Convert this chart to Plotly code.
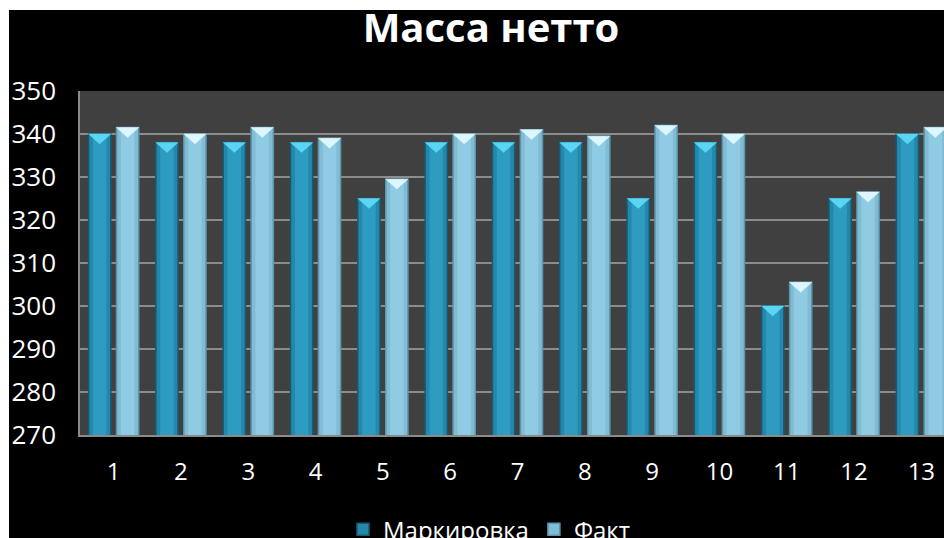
import plotly.graph_objects as go

categories = [1, 2, 3, 4, 5, 6, 7, 8, 9, 10, 11, 12, 13]
marking = [340, 338, 338, 338, 325, 338, 338, 338, 325, 338, 300, 325, 340]
actual = [341.5, 340, 341.5, 339, 329.5, 340, 341, 339.5, 342, 340, 305.5, 326.5, 341.5]
series_names = ["Маркировка", "Факт"]
y_ticks = [270, 280, 290, 300, 310, 320, 330, 340, 350]

FONT = "Open Sans, Noto Sans, Liberation Sans, sans-serif"

BAR_W = 0.33
INNER_W = 0.2
OFFSETS = [-0.3725, 0.0425]
CAP_H = 2.3  # height of the bevelled top cap, in axis units
bar_colors = ["#2388AB", "#80BCD3"]
inner_colors = ["#2E9CC1", "#8FCCE3"]
edge_colors = ["#165B73", "#5A95AB"]
cap_colors = ["#5AD6F4", "#DDF6FF"]


def cap_path(values, off):
    xs, ys = [], []
    for c, v in zip(categories, values):
        x0 = c + off
        x1 = x0 + BAR_W
        xs += [x0, x1, (x0 + x1) / 2, x0, None]
        ys += [v, v, v - CAP_H, v, None]
    return xs, ys


fig = go.Figure()
series = [marking, actual]
for i, (name, vals) in enumerate(zip(series_names, series)):
    fig.add_trace(go.Bar(
        x=categories, y=vals, name=name,
        width=BAR_W, offset=OFFSETS[i],
        marker=dict(color=bar_colors[i], line=dict(color=edge_colors[i], width=1.5)),
    ))
for i, vals in enumerate(series):
    fig.add_trace(go.Bar(
        x=categories, y=vals, width=INNER_W,
        offset=OFFSETS[i] + (BAR_W - INNER_W) / 2,
        marker=dict(color=inner_colors[i], line=dict(width=0)),
        showlegend=False, hoverinfo="skip",
    ))
for i, vals in enumerate(series):
    xs, ys = cap_path(vals, OFFSETS[i])
    fig.add_trace(go.Scatter(
        x=xs, y=ys, mode="lines", fill="toself", fillcolor=cap_colors[i],
        line=dict(color=cap_colors[i], width=0.5), showlegend=False, hoverinfo="skip",
    ))

fig.update_layout(
    width=960, height=560,
    paper_bgcolor="#000000",
    plot_bgcolor="#404040",
    margin=dict(l=71, r=14, t=81, b=135),
    barmode="overlay",
    title=dict(text="<b>Масса нетто</b>", x=482 / 960, xanchor="center",
               y=1 - 18 / 560, yanchor="middle",
               font=dict(family=FONT, size=40, color="#FFFFFF")),
    font=dict(family=FONT, color="#FFFFFF"),
    showlegend=True,
    legend=dict(orientation="h", x=0.468, xanchor="center", y=-0.275, yanchor="middle",
                font=dict(family=FONT, size=24, color="#FFFFFF"), bgcolor="rgba(0,0,0,0)"),
    xaxis=dict(
        range=[0.5, 13.5], tickmode="array", tickvals=categories,
        ticktext=[str(c) for c in categories],
        tickfont=dict(family=FONT, size=24, color="#FFFFFF"),
        showgrid=False, showline=True, linecolor="#8A8A8A", linewidth=1.5,
        ticks="", ticklabelstandoff=14, zeroline=False, automargin=False,
    ),
    yaxis=dict(
        range=[270, 350], tickmode="array", tickvals=y_ticks,
        tickfont=dict(family=FONT, size=26, color="#FFFFFF"),
        showgrid=True, gridcolor="#8C8C8C", gridwidth=1.5,
        showline=True, linecolor="#8A8A8A", linewidth=1.5,
        ticks="", ticklabelstandoff=17, zeroline=False, automargin=False,
    ),
)
fig.write_html(
    "out.html",
    post_script=(
        "document.body.style.margin='10px 0 0 9px';"
        "document.body.style.overflow='hidden';"
        "var d=document.getElementById('{plot_id}');"
        "d.style.boxShadow='-1px -1px 0 #9a9a9a';"
    ),
)
